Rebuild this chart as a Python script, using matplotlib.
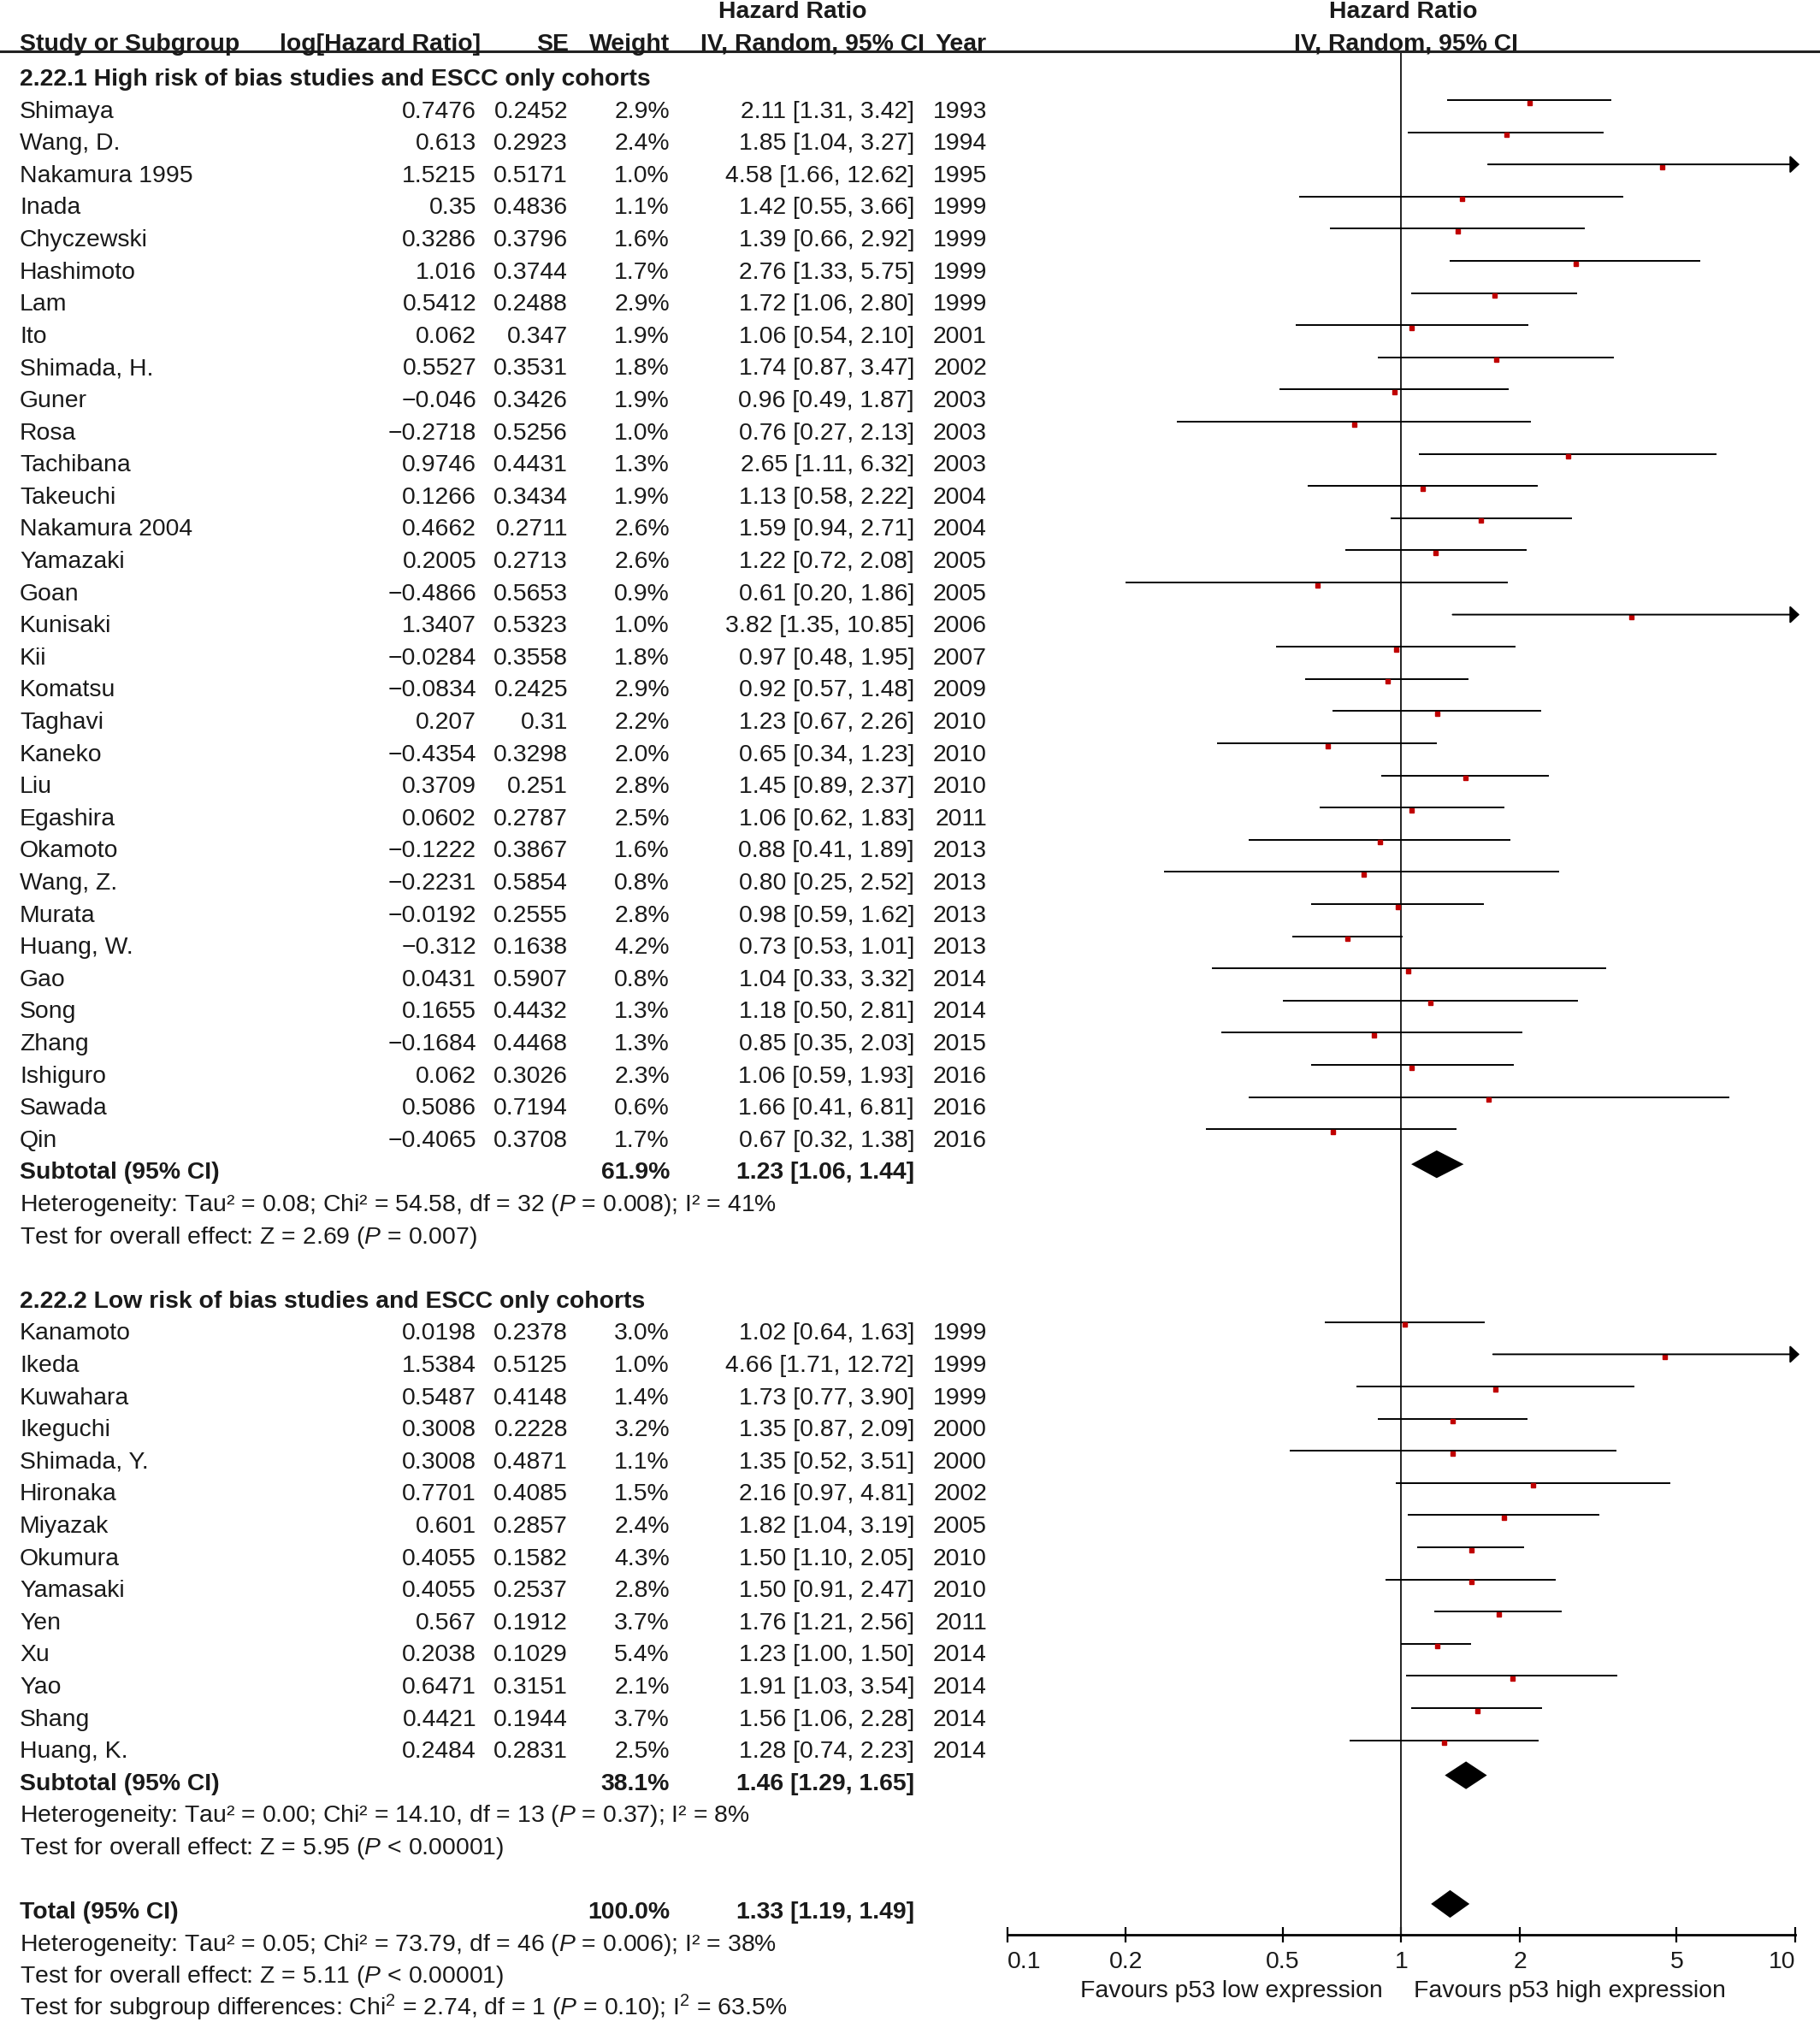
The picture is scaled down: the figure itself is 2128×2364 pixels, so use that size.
import matplotlib
matplotlib.use('Agg')
import matplotlib.pyplot as plt
from matplotlib.ticker import NullLocator, FixedLocator, FixedFormatter

plt.rcParams['font.family'] = ['Liberation Sans', 'DejaVu Sans']
plt.rcParams['mathtext.fontset'] = 'custom'
plt.rcParams['mathtext.rm'] = 'Liberation Sans'
plt.rcParams['mathtext.it'] = 'Liberation Sans:italic'
plt.rcParams['mathtext.bf'] = 'Liberation Sans:bold'

# ---------------- data ----------------
g1_names = ["Shimaya", "Wang, D.", "Nakamura 1995", "Inada", "Chyczewski", "Hashimoto", "Lam", "Ito",
            "Shimada, H.", "Guner", "Rosa", "Tachibana", "Takeuchi", "Nakamura 2004", "Yamazaki", "Goan",
            "Kunisaki", "Kii", "Komatsu", "Taghavi", "Kaneko", "Liu", "Egashira", "Okamoto", "Wang, Z.",
            "Murata", "Huang, W.", "Gao", "Song", "Zhang", "Ishiguro", "Sawada", "Qin"]
g1_loghr = [0.7476, 0.613, 1.5215, 0.35, 0.3286, 1.016, 0.5412, 0.062, 0.5527, -0.046, -0.2718, 0.9746,
            0.1266, 0.4662, 0.2005, -0.4866, 1.3407, -0.0284, -0.0834, 0.207, -0.4354, 0.3709, 0.0602,
            -0.1222, -0.2231, -0.0192, -0.312, 0.0431, 0.1655, -0.1684, 0.062, 0.5086, -0.4065]
g1_se = [0.2452, 0.2923, 0.5171, 0.4836, 0.3796, 0.3744, 0.2488, 0.347, 0.3531, 0.3426, 0.5256, 0.4431,
         0.3434, 0.2711, 0.2713, 0.5653, 0.5323, 0.3558, 0.2425, 0.31, 0.3298, 0.251, 0.2787, 0.3867,
         0.5854, 0.2555, 0.1638, 0.5907, 0.4432, 0.4468, 0.3026, 0.7194, 0.3708]
g1_weight = [2.9, 2.4, 1.0, 1.1, 1.6, 1.7, 2.9, 1.9, 1.8, 1.9, 1.0, 1.3, 1.9, 2.6, 2.6, 0.9, 1.0, 1.8, 2.9,
             2.2, 2.0, 2.8, 2.5, 1.6, 0.8, 2.8, 4.2, 0.8, 1.3, 1.3, 2.3, 0.6, 1.7]
g1_hr = [2.11, 1.85, 4.58, 1.42, 1.39, 2.76, 1.72, 1.06, 1.74, 0.96, 0.76, 2.65, 1.13, 1.59, 1.22, 0.61,
         3.82, 0.97, 0.92, 1.23, 0.65, 1.45, 1.06, 0.88, 0.80, 0.98, 0.73, 1.04, 1.18, 0.85, 1.06, 1.66, 0.67]
g1_lo = [1.31, 1.04, 1.66, 0.55, 0.66, 1.33, 1.06, 0.54, 0.87, 0.49, 0.27, 1.11, 0.58, 0.94, 0.72, 0.20,
         1.35, 0.48, 0.57, 0.67, 0.34, 0.89, 0.62, 0.41, 0.25, 0.59, 0.53, 0.33, 0.50, 0.35, 0.59, 0.41, 0.32]
g1_hi = [3.42, 3.27, 12.62, 3.66, 2.92, 5.75, 2.80, 2.10, 3.47, 1.87, 2.13, 6.32, 2.22, 2.71, 2.08, 1.86,
         10.85, 1.95, 1.48, 2.26, 1.23, 2.37, 1.83, 1.89, 2.52, 1.62, 1.01, 3.32, 2.81, 2.03, 1.93, 6.81, 1.38]
g1_year = [1993, 1994, 1995, 1999, 1999, 1999, 1999, 2001, 2002, 2003, 2003, 2003, 2004, 2004, 2005, 2005,
           2006, 2007, 2009, 2010, 2010, 2010, 2011, 2013, 2013, 2013, 2013, 2014, 2014, 2015, 2016, 2016, 2016]

g2_names = ["Kanamoto", "Ikeda", "Kuwahara", "Ikeguchi", "Shimada, Y.", "Hironaka", "Miyazak", "Okumura",
            "Yamasaki", "Yen", "Xu", "Yao", "Shang", "Huang, K."]
g2_loghr = [0.0198, 1.5384, 0.5487, 0.3008, 0.3008, 0.7701, 0.601, 0.4055, 0.4055, 0.567, 0.2038, 0.6471,
            0.4421, 0.2484]
g2_se = [0.2378, 0.5125, 0.4148, 0.2228, 0.4871, 0.4085, 0.2857, 0.1582, 0.2537, 0.1912, 0.1029, 0.3151,
         0.1944, 0.2831]
g2_weight = [3.0, 1.0, 1.4, 3.2, 1.1, 1.5, 2.4, 4.3, 2.8, 3.7, 5.4, 2.1, 3.7, 2.5]
g2_hr = [1.02, 4.66, 1.73, 1.35, 1.35, 2.16, 1.82, 1.50, 1.50, 1.76, 1.23, 1.91, 1.56, 1.28]
g2_lo = [0.64, 1.71, 0.77, 0.87, 0.52, 0.97, 1.04, 1.10, 0.91, 1.21, 1.00, 1.03, 1.06, 0.74]
g2_hi = [1.63, 12.72, 3.90, 2.09, 3.51, 4.81, 3.19, 2.05, 2.47, 2.56, 1.50, 3.54, 2.28, 2.23]
g2_year = [1999, 1999, 1999, 2000, 2000, 2002, 2005, 2010, 2010, 2011, 2014, 2014, 2014, 2014]

# pooled estimates: subgroup 1, subgroup 2, total
pooled_labels = ["Subtotal (95% CI)", "Subtotal (95% CI)", "Total (95% CI)"]
pooled_weight = [61.9, 38.1, 100.0]
pooled_hr = [1.23, 1.46, 1.33]
pooled_lo = [1.06, 1.29, 1.19]
pooled_hi = [1.44, 1.65, 1.49]

group_titles = ["2.22.1 High risk of bias studies and ESCC only cohorts",
                "2.22.2 Low risk of bias studies and ESCC only cohorts"]
het_texts = ["Heterogeneity: Tau² = 0.08; Chi² = 54.58, df = 32 ($P$ = 0.008); I² = 41%",
             "Heterogeneity: Tau² = 0.00; Chi² = 14.10, df = 13 ($P$ = 0.37); I² = 8%",
             "Heterogeneity: Tau² = 0.05; Chi² = 73.79, df = 46 ($P$ = 0.006); I² = 38%"]
effect_texts = ["Test for overall effect: Z = 2.69 ($P$ = 0.007)",
                "Test for overall effect: Z = 5.95 ($P$ < 0.00001)",
                "Test for overall effect: Z = 5.11 ($P$ < 0.00001)"]
subgroup_text = "Test for subgroup differences: Chi$^2$ = 2.74, df = 1 ($P$ = 0.10); I$^2$ = 63.5%"

tick_vals = [0.1, 0.2, 0.5, 1, 2, 5, 10]
tick_labels = ["0.1", "0.2", "0.5", "1", "2", "5", "10"]
favours_left = "Favours p53 low expression"
favours_right = "Favours p53 high expression"

# ---------------- layout ----------------
W, H = 2128, 2364
DPI = 100
FS = 20.4
TXT = '#1a1a1a'
RED = '#C00000'

px0, rowpx = 127.5, 37.6            # pixel y of row 0 text centre, pixels per row
ytop = -px0 / rowpx
ybot = (H - px0) / rowpx
BASE = 0.27                          # baseline offset below text centre (rows)
LINE_OFF = -0.28                     # CI lines sit above text centre
DIA_OFF = -0.19

# columns (pixel x)
X_NAME = 23
X_LOG = 557
X_SE = 664
X_W = 783
X_CI = 1069
X_YEAR = 1154

hdr_line_r = (60 - px0) / rowpx
axis_r = (2262 - px0) / rowpx
hdr_r = hdr_line_r - 0.3
top_r = hdr_r - 1.0

fig = plt.figure(figsize=(W / DPI, H / DPI), dpi=DPI)
ax = fig.add_axes([0, 0, 1, 1])
ax.set_xlim(0, W)
ax.set_ylim(ybot, ytop)
ax.axis('off')

# forest axes spanning x 0.1 .. 10
x_01 = 1177.7
x_10 = 2099.1
fax = fig.add_axes([x_01 / W, 0, (x_10 - x_01) / W, 1])
fax.set_xscale('log')
fax.set_xlim(0.1, 10)
fax.set_ylim(ybot, ytop)
fax.patch.set_visible(False)
for s in ['top', 'left', 'right']:
    fax.spines[s].set_visible(False)
fax.spines['bottom'].set_position(('data', axis_r))
fax.spines['bottom'].set_linewidth(2.0)
fax.yaxis.set_visible(False)
fax.xaxis.set_major_locator(FixedLocator(tick_vals))
fax.xaxis.set_major_formatter(FixedFormatter(tick_labels))
fax.xaxis.set_minor_locator(NullLocator())
fax.tick_params(axis='x', direction='inout', length=13, width=1.6, labelsize=FS,
                labelcolor=TXT, pad=7)
tl = fax.get_xticklabels()
tl[0].set_ha('left')
tl[-1].set_ha('right')


def t(x, r, s, ha='left', bold=False, **kw):
    ax.text(x, r + BASE, s, ha=ha, va='baseline', fontsize=FS, color=TXT,
            fontweight='bold' if bold else 'normal', **kw)


def fmt_num(v):
    return f"{v:g}".replace('-', '\u2212')


# headers
t(927, top_r, "Hazard Ratio", ha='center', bold=True)
t(1641, top_r, "Hazard Ratio", ha='center', bold=True)
t(X_NAME, hdr_r, "Study or Subgroup", bold=True)
t(562, hdr_r, "log[Hazard Ratio]", ha='right', bold=True)
t(665, hdr_r, "SE", ha='right', bold=True)
t(X_W, hdr_r, "Weight", ha='right', bold=True)
t(1081, hdr_r, "IV, Random, 95% CI", ha='right', bold=True)
t(X_YEAR, hdr_r, "Year", ha='right', bold=True)
t(1644, hdr_r, "IV, Random, 95% CI", ha='center', bold=True)
ax.axhline(hdr_line_r, color='#222222', lw=2.2)

# vertical reference line
fax.plot([1, 1], [hdr_line_r, axis_r], color='#222222', lw=1.4, clip_on=False)


def draw_group(start, names, loghr, se, weight, hr, lo, hi, year):
    for i in range(len(names)):
        r = start + i
        t(X_NAME, r, names[i])
        t(X_LOG, r, fmt_num(loghr[i]), ha='right')
        t(X_SE, r, fmt_num(se[i]), ha='right')
        t(X_W, r, f"{weight[i]:.1f}%", ha='right')
        t(X_CI, r, f"{hr[i]:.2f} [{lo[i]:.2f}, {hi[i]:.2f}]", ha='right')
        t(X_YEAR, r, str(year[i]), ha='right')
        yl = r + LINE_OFF
        if hi[i] > 10:
            fax.annotate('', xy=(10.25, yl), xytext=(lo[i], yl), xycoords='data',
                         arrowprops=dict(arrowstyle='-|>,head_length=0.45,head_width=0.42',
                                         mutation_scale=15, lw=1.4, color='black',
                                         shrinkA=0, shrinkB=0),
                         annotation_clip=False)
        else:
            fax.plot([lo[i], hi[i]], [yl, yl], color='black', lw=1.4, clip_on=False,
                     solid_capstyle='butt')
        fax.plot([hr[i]], [yl + 0.07], marker='s', ms=3.6, color=RED, mec=RED, clip_on=False)


def draw_pooled(r, k):
    t(X_NAME, r, pooled_labels[k], bold=True)
    t(X_W, r, f"{pooled_weight[k]:.1f}%", ha='right', bold=True)
    t(X_CI, r, f"{pooled_hr[k]:.2f} [{pooled_lo[k]:.2f}, {pooled_hi[k]:.2f}]", ha='right', bold=True)
    h = 0.43
    yc = r + DIA_OFF
    fax.fill([pooled_lo[k], pooled_hr[k], pooled_hi[k], pooled_hr[k]],
             [yc, yc - h, yc, yc + h], color='black', lw=0, clip_on=False)


# group 1
t(X_NAME, -1, group_titles[0], bold=True)
draw_group(0, g1_names, g1_loghr, g1_se, g1_weight, g1_hr, g1_lo, g1_hi, g1_year)
draw_pooled(33, 0)
t(X_NAME, 34, het_texts[0])
t(X_NAME, 35, effect_texts[0])

# group 2
t(X_NAME, 37, group_titles[1], bold=True)
draw_group(38, g2_names, g2_loghr, g2_se, g2_weight, g2_hr, g2_lo, g2_hi, g2_year)
draw_pooled(52, 1)
t(X_NAME, 53, het_texts[1])
t(X_NAME, 54, effect_texts[1])

# total
draw_pooled(56, 2)
t(X_NAME, 57, het_texts[2])
t(X_NAME, 58, effect_texts[2])
t(X_NAME, 59, subgroup_text)

# favours labels
fav_r = (2325 - px0) / rowpx
t(1617, fav_r, favours_left, ha='right')
t(1653, fav_r, favours_right, ha='left')

fig.savefig('out.png', dpi=DPI, facecolor='white')
